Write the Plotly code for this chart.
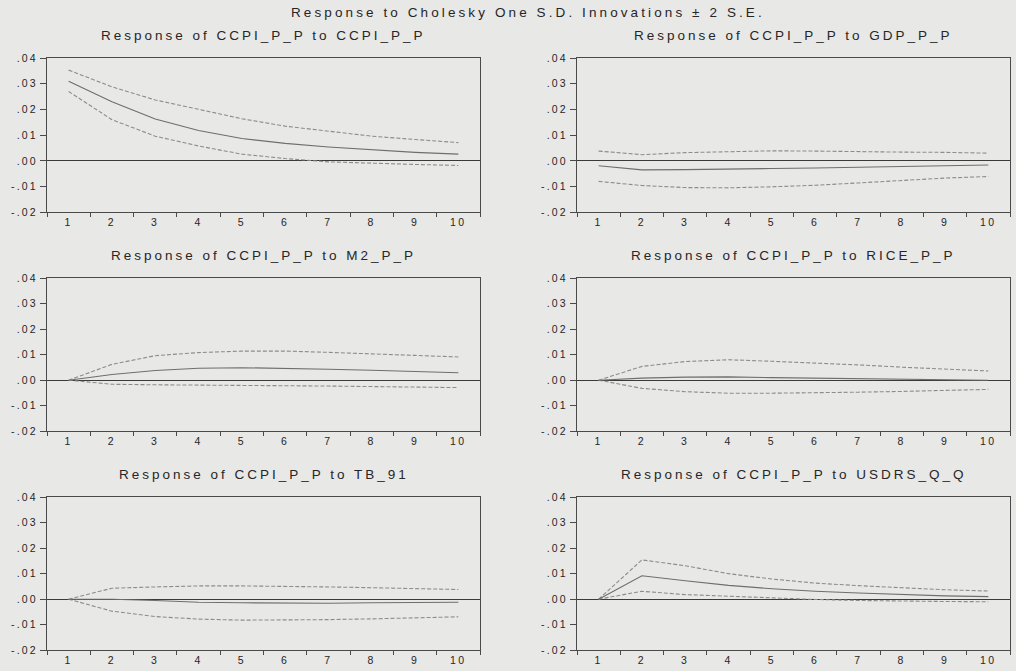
import plotly.graph_objects as go

periods = ["1", "2", "3", "4", "5", "6", "7", "8", "9", "10"]

titles = [
    "Response of CCPI_P_P to CCPI_P_P",
    "Response of CCPI_P_P to GDP_P_P",
    "Response of CCPI_P_P to M2_P_P",
    "Response of CCPI_P_P to RICE_P_P",
    "Response of CCPI_P_P to TB_91",
    "Response of CCPI_P_P to USDRS_Q_Q",
]

# Response of CCPI_P_P to CCPI_P_P
ccpi_resp = [0.0310, 0.0230, 0.0163, 0.0118, 0.0087, 0.0068, 0.0054, 0.0044, 0.0033, 0.0026]
ccpi_up = [0.0353, 0.0288, 0.0237, 0.0199, 0.0164, 0.0135, 0.0115, 0.0096, 0.0083, 0.0071]
ccpi_lo = [0.0270, 0.0160, 0.0096, 0.0058, 0.0026, 0.0009, -0.0004, -0.0010, -0.0014, -0.0018]

# Response of CCPI_P_P to GDP_P_P
gdp_resp = [-0.0019, -0.0035, -0.0034, -0.0033, -0.0030, -0.0028, -0.0025, -0.0022, -0.0018, -0.0016]
gdp_up = [0.0038, 0.0024, 0.0032, 0.0035, 0.0039, 0.0038, 0.0035, 0.0034, 0.0033, 0.0030]
gdp_lo = [-0.0080, -0.0096, -0.0104, -0.0105, -0.0101, -0.0095, -0.0086, -0.0076, -0.0067, -0.0061]

# Response of CCPI_P_P to M2_P_P
m2_resp = [0.0, 0.0022, 0.0038, 0.0047, 0.0049, 0.0047, 0.0043, 0.0039, 0.0035, 0.0029]
m2_up = [0.0, 0.0062, 0.0096, 0.0108, 0.0114, 0.0114, 0.0109, 0.0104, 0.0097, 0.0091]
m2_lo = [0.0, -0.0016, -0.0018, -0.0019, -0.0020, -0.0020, -0.0023, -0.0025, -0.0027, -0.0029]

# Response of CCPI_P_P to RICE_P_P
rice_resp = [0.0, 0.0008, 0.0012, 0.0013, 0.0010, 0.0008, 0.0005, 0.0003, 0.0001, 0.0000]
rice_up = [0.0, 0.0054, 0.0073, 0.0080, 0.0074, 0.0068, 0.0060, 0.0051, 0.0044, 0.0036]
rice_lo = [0.0, -0.0032, -0.0045, -0.0051, -0.0051, -0.0050, -0.0047, -0.0044, -0.0040, -0.0036]

# Response of CCPI_P_P to TB_91
tb_resp = [0.0, 0.0000, -0.0005, -0.0012, -0.0014, -0.0016, -0.0016, -0.0014, -0.0013, -0.0012]
tb_up = [0.0, 0.0043, 0.0048, 0.0052, 0.0052, 0.0051, 0.0048, 0.0045, 0.0042, 0.0038]
tb_lo = [0.0, -0.0047, -0.0068, -0.0078, -0.0082, -0.0082, -0.0080, -0.0077, -0.0073, -0.0069]

# Response of CCPI_P_P to USDRS_Q_Q
usd_resp = [0.0, 0.0092, 0.0072, 0.0054, 0.0041, 0.0031, 0.0024, 0.0018, 0.0013, 0.0010]
usd_up = [0.0, 0.0154, 0.0131, 0.0100, 0.0079, 0.0063, 0.0053, 0.0044, 0.0037, 0.0032]
usd_lo = [0.0, 0.0031, 0.0018, 0.0012, 0.0004, -0.0001, -0.0005, -0.0008, -0.0009, -0.0010]

y_tickvals = [0.04, 0.03, 0.02, 0.01, 0.0, -0.01, -0.02]
y_ticktext = [".04", ".03", ".02", ".01", ".00", "-.01", "-.02"]

panels = [
    (ccpi_resp, ccpi_up, ccpi_lo),
    (gdp_resp, gdp_up, gdp_lo),
    (m2_resp, m2_up, m2_lo),
    (rice_resp, rice_up, rice_lo),
    (tb_resp, tb_up, tb_lo),
    (usd_resp, usd_up, usd_lo),
]

W, H = 1016, 671
BG = "#e8e8e6"
TXT = "#262626"
FRAME = "#4a4a4a"
FONT = "Liberation Sans, Arial, sans-serif"


def spaced(t, px):
    return f'<span style="letter-spacing:{px}px">{t}</span>'


x_dom_px = [(47, 480), (577, 1010)]
y_dom_px = [(53, 210), (277, 433), (500, 656)]

fig = go.Figure()
annotations = []
for i, (resp, up, lo) in enumerate(panels):
    r, c = divmod(i, 2)
    n = i + 1
    xa = "x" if n == 1 else f"x{n}"
    ya = "y" if n == 1 else f"y{n}"
    for vals, dash, color in [(up, "4px,2px", "#8c8c8c"), (lo, "4px,2px", "#8c8c8c"), (resp, "solid", "#6e6e6e")]:
        fig.add_trace(go.Scatter(
            x=periods, y=vals, mode="lines",
            line=dict(color=color, width=1.1, dash=dash),
            xaxis=xa, yaxis=ya, showlegend=False, hoverinfo="skip",
        ))
    x0, x1 = x_dom_px[c]
    y0, y1 = y_dom_px[r]
    xkey = "xaxis" if n == 1 else f"xaxis{n}"
    ykey = "yaxis" if n == 1 else f"yaxis{n}"
    fig.update_layout(**{
        xkey: dict(
            domain=[x0 / W, x1 / W], anchor=ya, type="category",
            categoryorder="array", categoryarray=periods,
            tickmode="array", tickvals=periods,
            ticktext=[spaced(p, 2.5) for p in periods],
            tickson="boundaries", ticks="outside", ticklen=4, tickwidth=1,
            tickcolor=FRAME, showline=True, linecolor=FRAME, linewidth=1,
            mirror=True, showgrid=False, zeroline=False,
            range=[-0.5, 9.5],
            tickfont=dict(family=FONT, size=10.5, color=TXT),
        ),
        ykey: dict(
            domain=[1 - y1 / H, 1 - y0 / H], anchor=xa,
            range=[-0.02, 0.04], tickmode="array",
            tickvals=y_tickvals, ticktext=[spaced(t, 2.2) for t in y_ticktext],
            ticks="outside", ticklen=6, tickwidth=1, tickcolor=FRAME,
            showline=True, linecolor=FRAME, linewidth=1, mirror=True,
            showgrid=False, zeroline=True, zerolinecolor="#3a3a3a",
            zerolinewidth=1,
            tickfont=dict(family=FONT, size=10.5, color=TXT),
        ),
    })
    annotations.append(dict(
        text=spaced(titles[i], 3.0),
        x=(x0 + x1) / 2 / W, y=1 - (y0 - 21) / H,
        xref="paper", yref="paper", xanchor="center", yanchor="bottom",
        yshift=-8,
        showarrow=False, font=dict(family=FONT, size=13.5, color=TXT),
    ))

annotations.append(dict(
    text=spaced("Response to Cholesky One S.D. Innovations \u00b1 2 S.E.", 3.1),
    x=528 / W, y=1 - 12 / H, xref="paper", yref="paper",
    xanchor="center", yanchor="bottom", yshift=-4, showarrow=False,
    font=dict(family=FONT, size=13.5, color=TXT),
))

fig.update_layout(
    width=W, height=H,
    margin=dict(l=0, r=0, t=0, b=0),
    paper_bgcolor=BG, plot_bgcolor=BG,
    annotations=annotations,
    showlegend=False,
)

fig.write_html(
    "out.html",
    config={"responsive": False, "displayModeBar": False},
    post_script="document.body.style.margin='0';document.body.style.overflow='hidden';",
)
